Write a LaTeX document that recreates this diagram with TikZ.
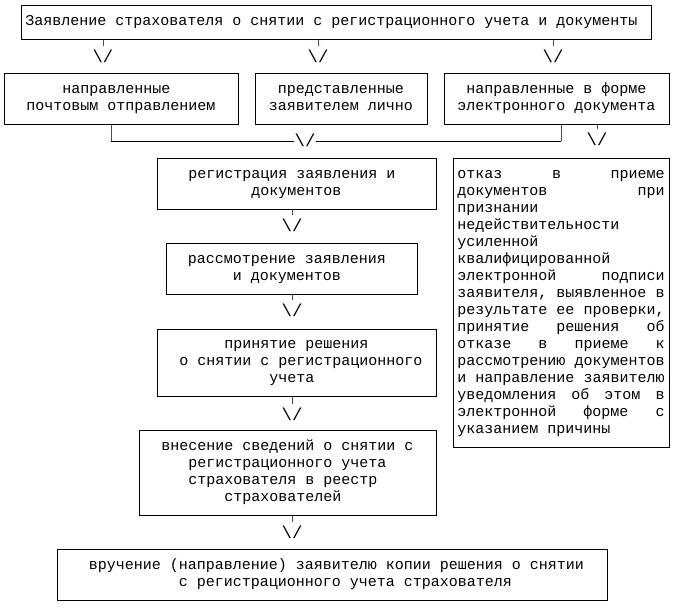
\documentclass[tikz,border=0pt]{standalone}
\usepackage{fontspec}
\newfontfamily\cour{Liberation Mono}
\definecolor{tickc}{RGB}{112,48,160}
\newcommand\ph{\hphantom{x}}
\newcommand\st{\rule{0pt}{9pt}}
\newcommand\sd{\rule[-4.2pt]{0pt}{4.2pt}}
\newcommand\vsym{\textbackslash/}
\newcommand\jl[1]{\hbox to 155.3pt{#1}}
\tikzset{
  box/.style={draw=black, line width=0.75pt, inner sep=0pt, align=center,
    font=\cour\fontsize{11.25pt}{12.75pt}\selectfont, minimum height=38.25pt},
  arrowglyph/.style={inner sep=0pt, font=\cour\fontsize{13pt}{14pt}\selectfont},
  tick/.style={draw=tickc, line width=0.75pt, shorten >=2.5pt},
  elbow/.style={draw=tickc, line width=0.75pt},
  hline/.style={draw=black, line width=0.75pt},
}
\begin{document}
\begin{tikzpicture}[x=0.75pt,y=-0.75pt]
\useasboundingbox (0,0) rectangle (674,608);

\node[box, minimum width=472.5pt, minimum height=25.5pt] (top) at (336,22)
  {\st Заявление страхователя о снятии с регистрационного учета и документы\ph\sd};

\node[box, minimum width=175.5pt] (b1) at (121,98.5) {\st направленные\ph\\почтовым отправлением\sd};
\node[box, minimum width=129pt] (b2) at (341,98.5) {\st представленные\\заявителем лично\sd};
\node[box, minimum width=168.75pt] (b3) at (556.5,98.5) {\st направленные в форме\\электронного документа\sd};

\node[box, minimum width=209.25pt] (reg) at (296.5,183.5) {\st регистрация заявления и\ph\\документов\sd};
\node[box, minimum width=188.25pt] (rev) at (291.5,268.5) {\st рассмотрение заявления\ph\\и документов\ph\sd};
\node[box, minimum width=209.25pt, minimum height=50.25pt] (dec) at (296.5,362.5)
  {\st принятие решения\\\ph{}о снятии с регистрационного\\учета\ph\sd};
\node[box, minimum width=222.75pt, minimum height=63.75pt] (regy) at (287.5,472.5)
  {\st внесение сведений о снятии с\\регистрационного учета\\страхователя в реестр\ph\\страхователей\ph\sd};
\node[box, minimum width=412.5pt] (fin) at (332,574.5)
  {\st\ph{}вручение (направление) заявителю копии решения о снятии\\\ph\ph\ph{}с регистрационного учета страхователя\sd};

\node[box, minimum width=162pt, minimum height=216.75pt, align=left] (rej) at (561,302.5) {%
\jl{\st отказ\hfill в\hfill приеме}\\
\jl{документов\hfill при}\\
\jl{признании\hfill}\\
\jl{недействительности\hfill}\\
\jl{усиленной\hfill}\\
\jl{квалифицированной\hfill}\\
\jl{электронной\hfill подписи}\\
\jl{заявителя,\hfill выявленное\hfill в}\\
\jl{результате\hfill ее\hfill проверки,}\\
\jl{принятие\hfill решения\hfill об}\\
\jl{отказе\hfill в\hfill приеме\hfill к}\\
\jl{рассмотрению\hfill документов}\\
\jl{и\hfill направление\hfill заявителю}\\
\jl{уведомления\hfill об\hfill этом\hfill в}\\
\jl{электронной\hfill форме\hfill с}\\
\jl{указанием причины\sd\hfill}};

% arrows under the top box
\node[arrowglyph] (a1) at (103,56) {\vsym};
\node[arrowglyph] (a2) at (318,56) {\vsym};
\node[arrowglyph] (a3) at (553,56) {\vsym};
\draw[tick] (top.south -| a1) -- (a1.north);
\draw[tick] (top.south -| a2) -- (a2.north);
\draw[tick] (top.south -| a3) -- (a3.north);

% junction under row 2
\coordinate (j1) at (111,141);
\coordinate (j2) at (561,141);
\node[arrowglyph] (ja) at (305,140) {\vsym};
\draw[elbow] (b1.south -| j1) -- (j1);
\draw[hline] (j1) -- (ja.west |- j1);
\draw[hline] (ja.east |- j2) -- (j2);
\draw[elbow] (j2) -- (b3.south -| j2);

% arrow towards the rejection box
\node[arrowglyph] (ar) at (597,139) {\vsym};
\draw[tick] (b3.south -| ar) -- (ar.north);

% central column arrows
\node[arrowglyph] (ar1) at (292,225) {\vsym};
\node[arrowglyph] (ar2) at (292,310) {\vsym};
\node[arrowglyph] (ar3) at (292,414) {\vsym};
\node[arrowglyph] (ar4) at (292,532) {\vsym};
\draw[tick] (reg.south -| ar1) -- (ar1.north);
\draw[tick] (rev.south -| ar2) -- (ar2.north);
\draw[tick] (dec.south -| ar3) -- (ar3.north);
\draw[tick] (regy.south -| ar4) -- (ar4.north);
\end{tikzpicture}
\end{document}
